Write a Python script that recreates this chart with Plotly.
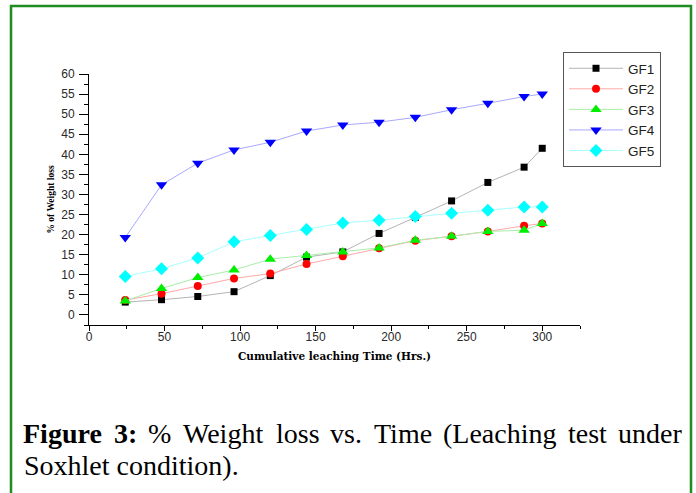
import plotly.graph_objects as go

hours = [24, 48, 72, 96, 120, 144, 168, 192, 216, 240, 264, 288, 300]
gf1 = [3.2, 3.8, 4.6, 5.8, 9.8, 14.4, 15.7, 20.3, 24.3, 28.4, 33.0, 36.8, 41.5]
gf2 = [3.7, 5.3, 7.2, 9.1, 10.3, 12.7, 14.6, 16.6, 18.5, 19.6, 20.8, 22.2, 22.8]
gf3 = [3.5, 6.6, 9.3, 11.2, 13.9, 14.8, 15.7, 16.7, 18.6, 19.6, 20.8, 21.1, 22.8]
gf4 = [19.3, 32.4, 37.8, 41.1, 43.0, 45.8, 47.3, 48.0, 49.2, 51.1, 52.7, 54.4, 55.0]
gf5 = [9.6, 11.5, 14.2, 18.2, 19.8, 21.3, 22.9, 23.6, 24.5, 25.3, 26.1, 26.9, 26.9]

x_ticks = [0, 50, 100, 150, 200, 250, 300]
y_ticks = list(range(0, 61, 5))

series = [
    ("GF1", gf1, "#000000", "#b4b4b4", "square", 7),
    ("GF2", gf2, "#ff0000", "#ffa8a8", "circle", 8),
    ("GF3", gf3, "#00ee00", "#a8eea8", "triangle-up", 10),
    ("GF4", gf4, "#0000ff", "#a8a8ff", "triangle-down", 10),
    ("GF5", gf5, "#00ffff", "#a8ffff", "diamond", 10),
]

caption_words = ["Figure", "3:", "%", "Weight", "loss", "vs.", "Time", "(Leaching", "test", "under"]
caption_bold = 2  # first two words bold
caption_line2 = "Soxhlet condition)."

# plot area in pixels
PL, PR, PT, PB = 89, 580, 74, 325
W, H = 696, 493


def px(xp):
    return (xp - PL) / (PR - PL)


def py(yp):
    return (PB - yp) / (PB - PT)


# Times metrics (Liberation Serif is metric compatible), per 1000 em
REG = {'%': 833, '(': 333, '.': 250, 'W': 944, 'T': 611, 'L': 611, 'a': 444, 'c': 444,
       'd': 500, 'e': 444, 'g': 500, 'h': 500, 'i': 278, 'l': 278, 'm': 778, 'n': 500,
       'o': 500, 'r': 333, 's': 389, 't': 278, 'u': 500, 'v': 500, '3': 500, ':': 278}
BOLD = {'F': 611, 'i': 278, 'g': 500, 'u': 556, 'r': 444, 'e': 444, '3': 500, ':': 333}


def wwidth(word, bold, size):
    table = BOLD if bold else REG
    return sum(table.get(c, 500) for c in word) * size / 1000.0


fig = go.Figure()
for name, vals, mc, lc, sym, sz in series:
    fig.add_trace(go.Scatter(
        x=hours, y=vals, name=name, mode="lines+markers",
        line=dict(color=lc, width=1),
        marker=dict(color=mc, symbol=sym, size=sz, line=dict(width=0)),
    ))

axis_font = dict(family="Liberation Sans, Arial", size=12, color="#2a2a2a")

fig.update_xaxes(
    range=[0, 325], tickvals=x_ticks,
    showline=True, linecolor="#000000", linewidth=1, mirror=False,
    ticks="outside", ticklen=5, tickcolor="#000000", tickwidth=1,
    minor=dict(ticks="outside", ticklen=3, dtick=25, tickcolor="#000000"),
    showgrid=False, zeroline=False, tickfont=axis_font, ticklabelstandoff=-4,
    title=dict(text="<b>Cumulative leaching Time (Hrs.)</b>",
               font=dict(family="DejaVu Serif", size=10.5, color="#000000"), standoff=9),
)
fig.update_yaxes(
    range=[-2.5, 60], tickvals=y_ticks,
    showline=True, linecolor="#000000", linewidth=1, mirror=False,
    ticks="outside", ticklen=9, tickcolor="#000000", tickwidth=1,
    minor=dict(ticks="outside", ticklen=4, dtick=2.5, tickcolor="#000000"),
    showgrid=False, zeroline=False, tickfont=axis_font, ticklabelstandoff=2,
    title=dict(text="<b>% of Weight loss</b>",
               font=dict(family="Liberation Serif, Times New Roman", size=9.5, color="#000000"),
               standoff=4),
)

fig.update_layout(
    width=W, height=H,
    margin=dict(l=PL, r=W - PR, t=PT, b=H - PB),
    paper_bgcolor="#ffffff", plot_bgcolor="#ffffff",
    legend=dict(
        x=px(563), xanchor="left", y=py(52), yanchor="top",
        xref="paper", yref="paper",
        bordercolor="#555555", borderwidth=1, bgcolor="#ffffff",
        font=dict(family="Liberation Sans, Arial", size=13.5, color="#222222"),
        itemwidth=54, tracegroupgap=0,
    ),
    showlegend=True,
)

# green frame
fig.add_shape(type="rect", xref="paper", yref="paper",
              x0=px(11), x1=px(691), y0=py(520), y1=py(6),
              line=dict(color="#1e8c1e", width=2.5), fillcolor="rgba(0,0,0,0)", layer="below")

# justified caption line 1
CS = 28
left, right = 23, 682
widths = [wwidth(w, i < caption_bold, CS) for i, w in enumerate(caption_words)]
gap = (right - left - sum(widths)) / (len(caption_words) - 1)
cap_font = dict(family="Liberation Serif, Times New Roman", size=CS, color="#000000")
xcur = left
for i, (w, wd) in enumerate(zip(caption_words, widths)):
    txt = f"<b>{w}</b>" if i < caption_bold else w
    fig.add_annotation(xref="paper", yref="paper", x=px(xcur + wd / 2), y=py(433),
                       xanchor="center", yanchor="middle", showarrow=False,
                       text=txt, font=cap_font)
    xcur += wd + gap
fig.add_annotation(xref="paper", yref="paper", x=px(22), y=py(465),
                   xanchor="left", yanchor="middle", showarrow=False, align="left",
                   text=caption_line2, font=cap_font)

fig.write_html("out.html", config={"displayModeBar": False},
               post_script="document.body.style.margin='0';")
